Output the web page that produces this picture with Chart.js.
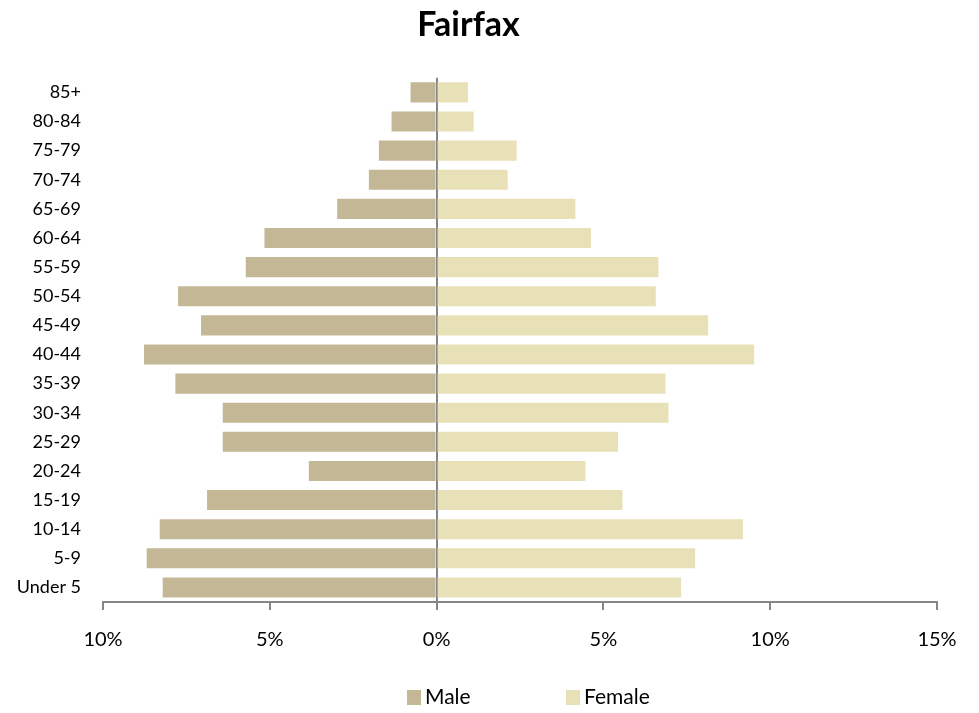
<!DOCTYPE html>
<html>
<head>
<meta charset="utf-8">
<script src="https://cdn.jsdelivr.net/npm/chart.js@4"></script>
<style>
  html, body { margin: 0; padding: 0; background: #fff; }
  #wrap { width: 979px; height: 713px; }
</style>
</head>
<body>
<div id="wrap"><canvas id="pyramid"></canvas></div>
<script>
// Age groups, youngest first (axis is reversed so 85+ sits on top)
const ageGroups = ["Under 5", "5-9", "10-14", "15-19", "20-24", "25-29", "30-34", "35-39",
    "40-44", "45-49", "50-54", "55-59", "60-64", "65-69", "70-74", "75-79", "80-84", "85+"];

// Percent of population (male shown to the left)
const malePct = [8.21, 8.69, 8.30, 6.88, 3.83, 6.41, 6.41, 7.83,
    8.77, 7.06, 7.75, 5.72, 5.16, 2.98, 2.03, 1.73, 1.35, 0.78];
const femalePct = [7.33, 7.75, 9.18, 5.57, 4.46, 5.44, 6.95, 6.86,
    9.52, 8.14, 6.57, 6.65, 4.63, 4.16, 2.13, 2.40, 1.11, 0.94];

const xTicks = [-10, -5, 0, 5, 10, 15];

const FONT = "Lato, 'Open Sans', sans-serif";
const AXIS_GREY = "#868686";

// Simple legend drawn on the canvas so the items can be spaced apart
const spacedLegend = {
    id: "spacedLegend",
    afterDraw(chart) {
        let ctx = chart.ctx;
        let starts = [407, 566];
        let y = 697;
        ctx.save();
        ctx.font = "21px " + FONT;
        ctx.textBaseline = "middle";
        chart.data.datasets.forEach((ds, i) => {
            ctx.fillStyle = ds.backgroundColor;
            ctx.fillRect(starts[i], y - 7, 14, 15);
            ctx.fillStyle = "#000";
            ctx.fillText(ds.label, starts[i] + 18, y);
        });
        ctx.restore();
    }
};

new Chart(document.getElementById("pyramid"), {
    type: "bar",
    data: {
        labels: ageGroups,
        datasets: [{
            label: "Male",
            data: malePct.map(v => -v),
            backgroundColor: "#C4B796",
            barPercentage: 0.69,
            categoryPercentage: 1
        }, {
            label: "Female",
            data: femalePct,
            backgroundColor: "#E8E1B7",
            barPercentage: 0.69,
            categoryPercentage: 1
        }]
    },
    options: {
        indexAxis: "y",
        responsive: true,
        maintainAspectRatio: false,
        animation: false,
        layout: { padding: { left: 0, right: 42, top: 0, bottom: 0 } },
        plugins: {
            title: {
                display: true,
                text: "Fairfax",
                color: "#000",
                font: { family: FONT, size: 34, weight: "bold" },
                padding: { top: 5, bottom: 32 }
            },
            legend: { display: false },
            tooltip: { enabled: false }
        },
        scales: {
            x: {
                stacked: true,
                min: -10,
                max: 15,
                afterBuildTicks: axis => {
                    axis.ticks = xTicks.map(v => ({ value: v }));
                },
                afterFit: axis => { axis.height = 111; },
                ticks: {
                    color: "#000",
                    font: { family: FONT, size: 20 },
                    padding: 18,
                    maxRotation: 0,
                    callback: v => Math.abs(v) + "%"
                },
                grid: {
                    color: c => (c.tick && c.tick.value === 0) ? AXIS_GREY : "rgba(0,0,0,0)",
                    tickColor: AXIS_GREY,
                    lineWidth: 2,
                    tickLength: 8
                },
                border: { color: AXIS_GREY, width: 2 }
            },
            y: {
                stacked: true,
                reverse: true,
                afterFit: axis => { axis.width = 103; },
                ticks: {
                    color: "#000",
                    font: { family: FONT, size: 18 },
                    padding: 22
                },
                grid: { display: false, drawTicks: false },
                border: { display: false }
            }
        }
    },
    plugins: [spacedLegend]
});
</script>
</body>
</html>
